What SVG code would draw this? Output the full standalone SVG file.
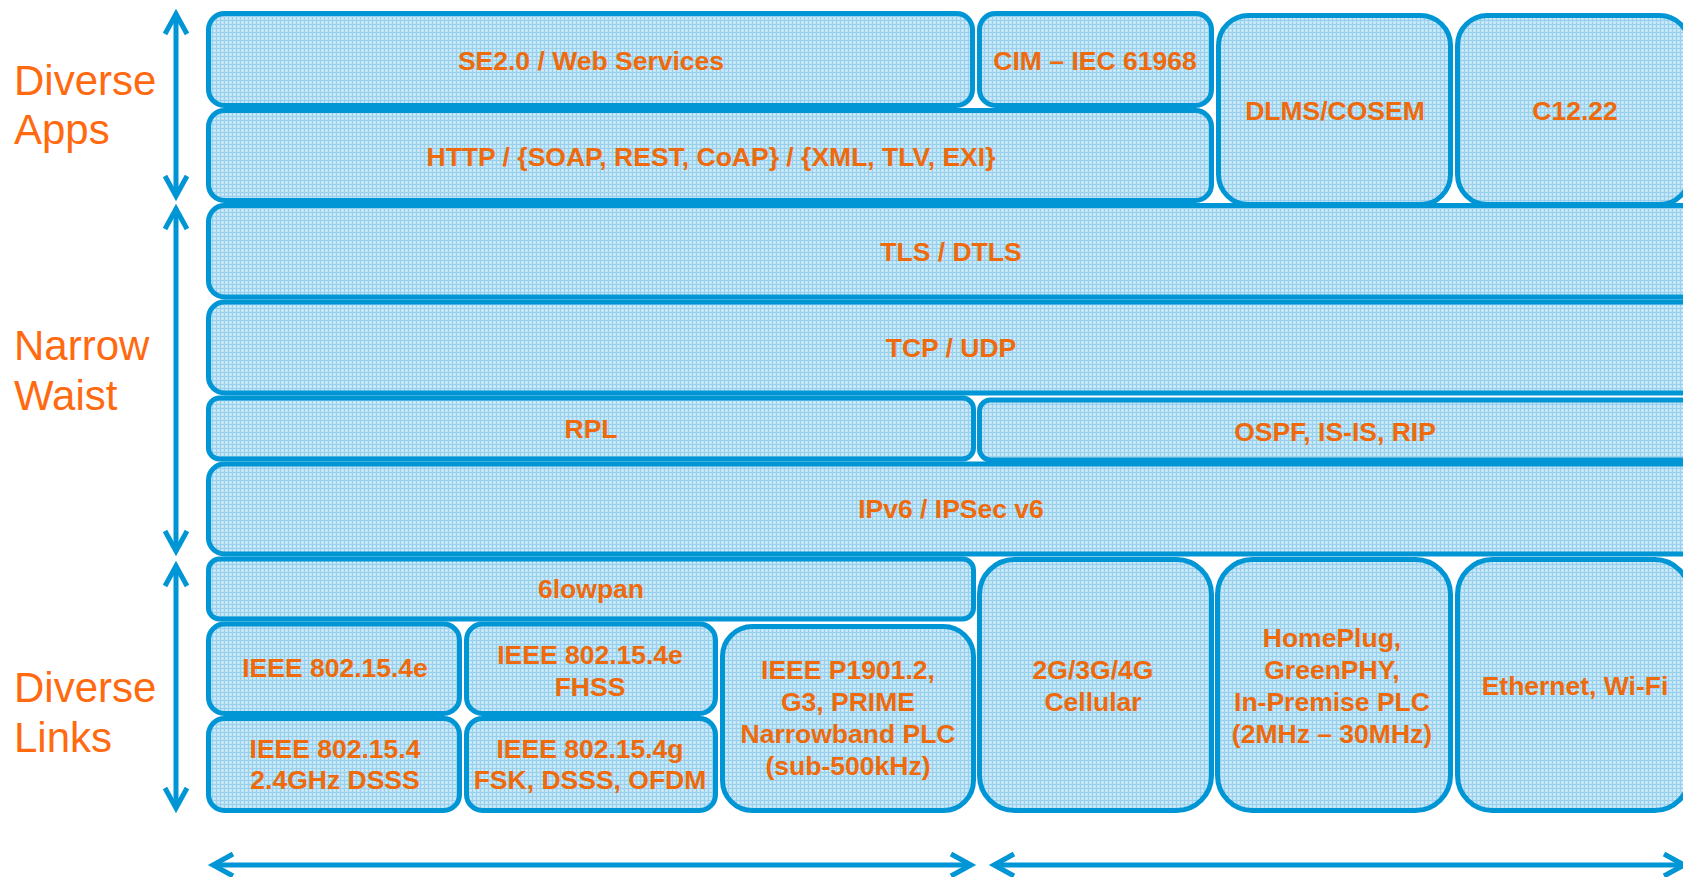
<svg xmlns="http://www.w3.org/2000/svg" width="1683" height="877" viewBox="0 0 1683 877">
  <style>
    .box { fill: url(#grid); stroke: #0096D6; stroke-width: 5; }
    .lbl { font-family: "Liberation Sans", Arial, sans-serif; font-weight: bold; font-size: 26.5px; fill: #EE6A0C; text-anchor: middle; }
    .side { font-family: "Liberation Sans", Arial, sans-serif; font-size: 42px; fill: #FF6A10; }
    .arrow { fill: none; stroke: #0096D6; stroke-width: 5; marker-start: url(#ah); marker-end: url(#ah); }
  </style>
  <defs>
    <!-- fine woven texture used inside every layer box -->
    <pattern id="grid" width="4" height="4" patternUnits="userSpaceOnUse">
      <rect width="4" height="4" fill="#bfe4f6"/>
      <rect width="4" height="1" fill="#98d0ee"/>
      <rect width="1" height="4" fill="#98d0ee"/>
      <rect x="2" y="2" width="1" height="1" fill="#e2f3fb"/>
    </pattern>
    <!-- open chevron arrowhead -->
    <marker id="ah" viewBox="-24 -14 32 28" refX="0" refY="0" markerWidth="32" markerHeight="28" markerUnits="userSpaceOnUse" orient="auto-start-reverse" overflow="visible">
      <path d="M-20,-11 L0,0 L-20,11" fill="none" stroke="#0096D6" stroke-width="5" stroke-linejoin="miter"/>
    </marker>
  </defs>

  <rect width="1683" height="877" fill="#ffffff"/>

  <!-- side captions -->
  <g id="caption-apps">
    <text class="side" x="14" y="95">Diverse</text>
    <text class="side" x="14" y="144">Apps</text>
  </g>
  <g id="caption-waist">
    <text class="side" x="14" y="360">Narrow</text>
    <text class="side" x="14" y="410">Waist</text>
  </g>
  <g id="caption-links">
    <text class="side" x="14" y="702">Diverse</text>
    <text class="side" x="14" y="752">Links</text>
  </g>

  <!-- application layer -->
  <g id="se20">
    <rect class="box" x="208.5" y="13.5" width="764" height="92" rx="16"/>
    <text class="lbl" x="591" y="70">SE2.0 / Web Services</text>
  </g>
  <g id="cim">
    <rect class="box" x="979.5" y="13.5" width="232" height="92" rx="16"/>
    <text class="lbl" x="1095" y="70">CIM – IEC 61968</text>
  </g>
  <g id="http">
    <rect class="box" x="208.5" y="110.5" width="1003" height="90" rx="16"/>
    <text class="lbl" x="711" y="166">HTTP / {SOAP, REST, CoAP} / {XML, TLV, EXI}</text>
  </g>
  <g id="dlms">
    <rect class="box" x="1218.5" y="15.5" width="232" height="189" rx="30"/>
    <text class="lbl" x="1335" y="120">DLMS/COSEM</text>
  </g>
  <g id="c1222">
    <rect class="box" x="1457.5" y="15.5" width="232" height="189" rx="30"/>
    <text class="lbl" x="1575" y="120">C12.22</text>
  </g>

  <!-- narrow waist -->
  <g id="tls">
    <rect class="box" x="208.5" y="205.5" width="1509" height="91.5" rx="16"/>
    <text class="lbl" x="951" y="261">TLS / DTLS</text>
  </g>
  <g id="tcp">
    <rect class="box" x="208.5" y="302" width="1509" height="91" rx="16"/>
    <text class="lbl" x="951" y="357">TCP / UDP</text>
  </g>
  <g id="rpl">
    <rect class="box" x="208.5" y="398" width="765" height="61" rx="11"/>
    <text class="lbl" x="591" y="438">RPL</text>
  </g>
  <g id="ospf">
    <rect class="box" x="979.5" y="400" width="738" height="60" rx="11"/>
    <text class="lbl" x="1335" y="441">OSPF, IS-IS, RIP</text>
  </g>
  <g id="ipv6">
    <rect class="box" x="208.5" y="464" width="1509" height="90" rx="16"/>
    <text class="lbl" x="951" y="518">IPv6 / IPSec v6</text>
  </g>

  <!-- link layer -->
  <g id="sixlowpan">
    <rect class="box" x="208.5" y="559" width="765" height="60" rx="11"/>
    <text class="lbl" x="591" y="598">6lowpan</text>
  </g>
  <g id="ieee802154e">
    <rect class="box" x="208.5" y="624" width="251" height="89.5" rx="16"/>
    <text class="lbl" x="335" y="677">IEEE 802.15.4e</text>
  </g>
  <g id="ieee802154e-fhss">
    <rect class="box" x="466.5" y="624" width="249" height="89.5" rx="16"/>
    <text class="lbl" x="590" y="664">IEEE 802.15.4e</text>
    <text class="lbl" x="590" y="696">FHSS</text>
  </g>
  <g id="ieee802154">
    <rect class="box" x="208.5" y="718.5" width="251" height="92" rx="16"/>
    <text class="lbl" x="335" y="758">IEEE 802.15.4</text>
    <text class="lbl" x="335" y="789">2.4GHz DSSS</text>
  </g>
  <g id="ieee802154g">
    <rect class="box" x="466.5" y="718.5" width="249" height="92" rx="16"/>
    <text class="lbl" x="590" y="758">IEEE 802.15.4g</text>
    <text class="lbl" x="590" y="789">FSK, DSSS, OFDM</text>
  </g>
  <g id="p1901">
    <rect class="box" x="722.5" y="626.5" width="251" height="184" rx="30"/>
    <text class="lbl" x="848" y="679">IEEE P1901.2,</text>
    <text class="lbl" x="848" y="711">G3, PRIME</text>
    <text class="lbl" x="848" y="743">Narrowband PLC</text>
    <text class="lbl" x="848" y="775">(sub-500kHz)</text>
  </g>
  <g id="cellular">
    <rect class="box" x="979.5" y="559.5" width="232" height="251" rx="35"/>
    <text class="lbl" x="1093" y="679">2G/3G/4G</text>
    <text class="lbl" x="1093" y="711">Cellular</text>
  </g>
  <g id="homeplug">
    <rect class="box" x="1217.5" y="559.5" width="233" height="251" rx="35"/>
    <text class="lbl" x="1332" y="647">HomePlug,</text>
    <text class="lbl" x="1332" y="679">GreenPHY,</text>
    <text class="lbl" x="1332" y="711">In-Premise PLC</text>
    <text class="lbl" x="1332" y="743">(2MHz – 30MHz)</text>
  </g>
  <g id="ethernet">
    <rect class="box" x="1457.5" y="559.5" width="232" height="251" rx="35"/>
    <text class="lbl" x="1575" y="695">Ethernet, Wi-Fi</text>
  </g>

  <!-- span arrows -->
  <g id="connectors">
    <path class="arrow" d="M176,14 L176,196"/>
    <path class="arrow" d="M176,209 L176,551"/>
    <path class="arrow" d="M176,566 L176,808"/>
    <path class="arrow" d="M213,865 L971,865"/>
    <path class="arrow" d="M994,865 L1684,865"/>
  </g>
</svg>
